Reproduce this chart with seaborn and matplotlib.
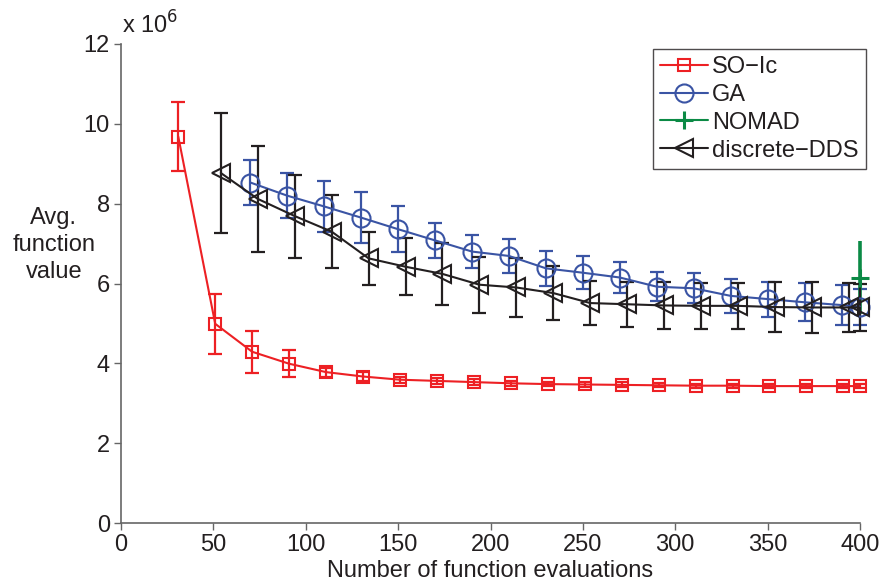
import matplotlib
matplotlib.use("Agg")
import matplotlib.pyplot as plt
import seaborn as sns
import pandas as pd
import numpy as np

# ---- data (values in units of 1e6) ----
so_x = [31, 51, 71, 91, 111, 131, 151, 171, 191, 211, 231, 251, 271, 291, 311, 331, 351, 371, 391, 400]
so_y = [9.68, 4.99, 4.29, 3.99, 3.78, 3.67, 3.59, 3.56, 3.53, 3.50, 3.48, 3.47, 3.46, 3.45, 3.44, 3.44, 3.43, 3.43, 3.43, 3.43]
so_err = [0.87, 0.75, 0.53, 0.34, 0.11, 0.11, 0.08, 0.07, 0.07, 0.06, 0.06, 0.06, 0.06, 0.05, 0.05, 0.05, 0.05, 0.05, 0.05, 0.05]

ga_x = [70, 90, 110, 130, 150, 170, 190, 210, 230, 250, 270, 290, 310, 330, 350, 370, 390, 400]
ga_y = [8.53, 8.20, 7.93, 7.65, 7.36, 7.08, 6.80, 6.69, 6.38, 6.27, 6.15, 5.92, 5.88, 5.69, 5.61, 5.53, 5.46, 5.42]
ga_err = [0.57, 0.56, 0.64, 0.64, 0.58, 0.44, 0.42, 0.43, 0.44, 0.42, 0.38, 0.37, 0.38, 0.43, 0.44, 0.48, 0.50, 0.45]

nomad_x = [400]
nomad_y = [6.15]
nomad_err = [0.92]

dds_x = [54, 74, 94, 114, 134, 154, 174, 194, 214, 234, 254, 274, 294, 314, 334, 354, 374, 394, 400]
dds_y = [8.77, 8.12, 7.69, 7.30, 6.63, 6.42, 6.24, 5.97, 5.90, 5.76, 5.51, 5.48, 5.45, 5.44, 5.44, 5.41, 5.40, 5.40, 5.40]
dds_err = [1.50, 1.32, 1.04, 0.91, 0.66, 0.71, 0.77, 0.70, 0.74, 0.67, 0.55, 0.57, 0.58, 0.57, 0.57, 0.62, 0.63, 0.62, 0.60]

labels = ["SO\u2212Ic", "GA", "NOMAD", "discrete\u2212DDS"]
colors = ["#ed2024", "#3a54a4", "#0b8a45", "#231f20"]
x_ticks = [0, 50, 100, 150, 200, 250, 300, 350, 400]
y_ticks = [0, 2, 4, 6, 8, 10, 12]

sns.set_theme(style="white")
plt.rcParams['font.family'] = ['Liberation Sans', 'DejaVu Sans']

fig = plt.figure(figsize=(8.86, 5.83), dpi=100)
ax = fig.add_axes([121/886, 60/583, 739/886, 479/583])

series = [
    (so_x, so_y, so_err, "s", 9),
    (ga_x, ga_y, ga_err, "o", 13),
    (nomad_x, nomad_y, nomad_err, "+", 13),
    (dds_x, dds_y, dds_err, "<", 13),
]
caps = [4.7, 4.7, 0, 4.7]

for (xs, ys, es, mk, ms), lab, col, cs in zip(series, labels, colors, caps):
    ax.errorbar(xs, ys, yerr=es, fmt="none", ecolor=col, elinewidth=1.6 if lab != "NOMAD" else 2.6,
                capsize=cs, capthick=1.6, zorder=2)
    df = pd.DataFrame({"x": xs, "y": ys})
    sns.lineplot(data=df, x="x", y="y", ax=ax, color=col, marker=mk, markersize=ms,
                 markerfacecolor="none", markeredgecolor=col,
                 markeredgewidth=1.5 if mk != "+" else 2.2,
                 linewidth=1.5, label=lab, zorder=3, estimator=None)

for art in list(ax.lines) + list(ax.collections):
    art.set_clip_on(False)

ax.set_xlim(0, 400)
ax.set_ylim(0, 12)
ax.set_xticks(x_ticks)
ax.set_yticks(y_ticks)
ax.set_xticklabels([str(t) for t in x_ticks])
ax.set_yticklabels([str(t) for t in y_ticks])
ax.tick_params(axis="both", direction="out", length=5, width=1, color="#666666",
               labelsize=17, labelcolor="#231f20", pad=3, bottom=True, left=True)

for side in ["top", "right"]:
    ax.spines[side].set_visible(False)
for side in ["left", "bottom"]:
    ax.spines[side].set_color("#666666")
    ax.spines[side].set_linewidth(1.2)

ax.set_xlabel("Number of function evaluations", fontsize=17, color="#231f20")
ax.xaxis.set_label_coords(0.5, -0.1)
ax.xaxis.label.set_va("center")
ax.set_ylabel("Avg.\nfunction\nvalue", fontsize=17, color="#231f20", rotation=0,
              ha="center", va="center", multialignment="center", linespacing=1.3)
ax.yaxis.set_label_coords(-0.091, 0.58)

ax.text(0.002, 1.012, r"x 10$^{6}$", transform=ax.transAxes, fontsize=17,
        color="#231f20", ha="left", va="bottom")

leg = ax.legend(loc="upper right", bbox_to_anchor=(1.008, 0.99), fontsize=17,
                frameon=True, fancybox=False, borderpad=0.3, labelspacing=0.25,
                handlelength=2.0, handletextpad=0.2, borderaxespad=0.0)
leg.get_frame().set_edgecolor("#231f20")
leg.get_frame().set_linewidth(1.0)
for t in leg.get_texts():
    t.set_color("#231f20")

fig.savefig("out.png", dpi=100)
